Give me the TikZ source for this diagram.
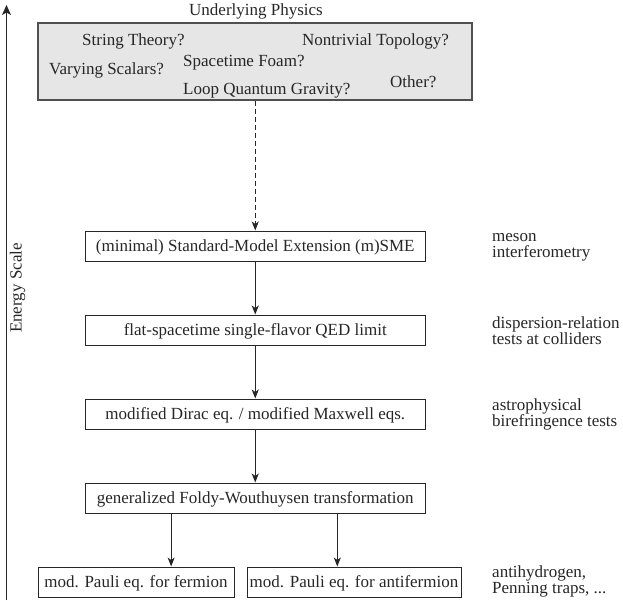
\documentclass[tikz,border=0pt]{standalone}
\usepackage{fontspec}
\setmainfont{Liberation Serif}
\usetikzlibrary{arrows.meta,calc}
\definecolor{ink}{HTML}{262626}
\definecolor{boxfill}{HTML}{E6E6E6}
\definecolor{boxline}{HTML}{505050}
\tikzset{
  base/.style={font=\fontsize{17}{16}\selectfont, text=ink},
  stage/.style={base, draw=ink, line width=1pt, rectangle, minimum width=339.5pt, minimum height=30pt, inner sep=0pt, text height=11.6pt, text depth=0pt},
  smallstage/.style={base, draw=ink, line width=1pt, rectangle, minimum height=30pt, inner sep=0pt, text height=11.6pt, text depth=0pt},
  side/.style={base, anchor=west, align=left, inner sep=0pt, execute at begin node={\lineskiplimit=-100pt\relax}},
  idea/.style={base, anchor=base west, inner sep=0pt},
  arr/.style={draw=ink, line width=1pt, -{Stealth[length=9pt,width=7pt,inset=2.5pt]}},
}
\begin{document}
\begin{tikzpicture}[x=1pt,y=-1pt]
\useasboundingbox (0,0) rectangle (623,600);
% energy axis
\coordinate (axb) at (6.5,600);
\coordinate (axt) at (6.5,5);
\draw[draw=ink, line width=1.3pt, -{Stealth[length=10pt,width=9pt,inset=2.5pt]}] (axb) -- (axt);
\node[base, rotate=90, inner sep=0pt] (escale) at (17.5,288) {Energy Scale};

% top box
\node[base, anchor=base, inner sep=0pt] (ulabel) at (256,15) {Underlying Physics};
\node[draw=boxline, fill=boxfill, line width=1.1pt, rectangle, minimum width=434pt, minimum height=77pt, inner sep=0pt] (phys) at (255,61.5) {};
\node[idea] (st) at (82,45) {String Theory?};
\node[idea] (nt) at (302,45.5) {Nontrivial Topology?};
\node[idea] (vs) at (49,74) {Varying Scalars?};
\node[idea] (sf) at (183,66.5) {Spacetime Foam?};
\node[idea] (lq) at (183,94) {Loop Quantum Gravity?};
\node[idea] (ot) at (390,87) {Other?};

% chain
\node[stage] (sme) at (255.25,246) {(minimal) Standard-Model Extension (m)SME};
\node[stage] (qed) at (255.25,330) {flat-spacetime single-flavor QED limit};
\node[stage] (dir) at (255.25,414) {modified Dirac eq. / modified Maxwell eqs.};
\node[stage] (fw) at (255.25,498) {generalized Foldy-Wouthuysen transformation};
\node[smallstage, minimum width=196pt] (pf) at (136,582) {mod. Pauli eq. for fermion};
\node[smallstage, minimum width=214pt] (pa) at (354,582) {mod. Pauli eq. for antifermion};

% side labels
\node[side] (l1) at (492,247) {meson\\interferometry};
\node[side] (l2) at (492,330.5) {dispersion-relation\\tests at colliders};
\node[side] (l3) at (492,414) {astrophysical\\birefringence tests};
\node[side] (l4) at (492,581) {antihydrogen,\\Penning traps, ...};

% connectors
\draw[arr, dash pattern=on 5pt off 3pt] (phys.south -| sme.north) -- (sme.north);
\draw[arr] (sme) -- (qed);
\draw[arr] (qed) -- (dir);
\draw[arr] (dir) -- (fw);
\coordinate (f1) at ($(fw.south west)!0.253!(fw.south east)$);
\coordinate (f2) at ($(fw.south west)!0.741!(fw.south east)$);
\draw[arr] (f1) -- (f1 |- pf.north);
\draw[arr] (f2) -- (f2 |- pa.north);
\end{tikzpicture}
\end{document}
